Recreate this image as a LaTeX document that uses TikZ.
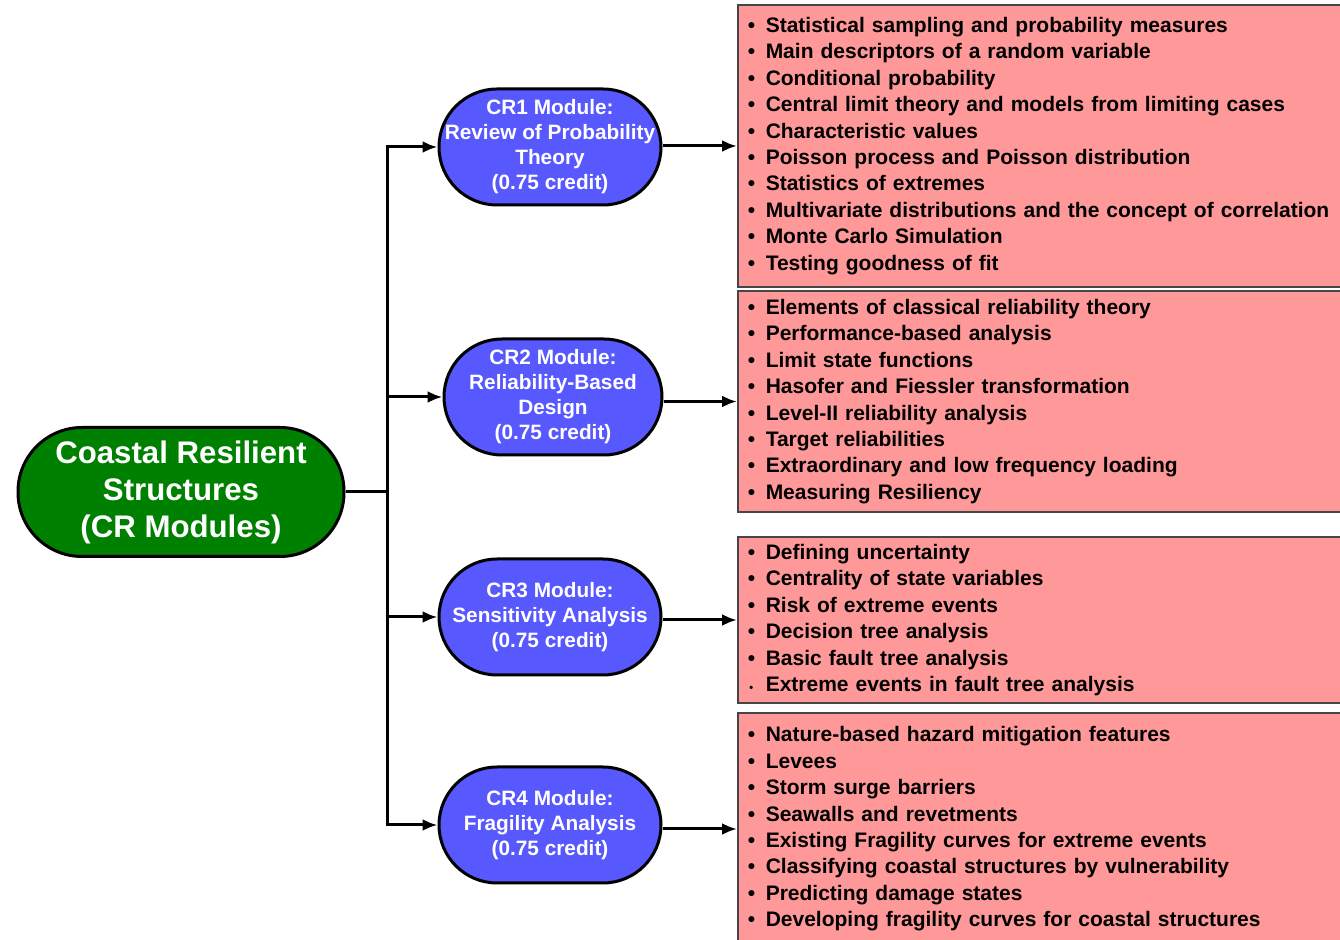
\documentclass[tikz,border=0pt]{standalone}
\usepackage{fontspec}
\setmainfont{Liberation Sans}
\usetikzlibrary{arrows.meta}
\definecolor{rootgreen}{RGB}{0,128,0}
\definecolor{modblue}{RGB}{88,88,255}
\definecolor{listpink}{RGB}{255,153,153}
\definecolor{listedge}{RGB}{70,70,70}
\newcommand{\itm}[1]{\makebox[9pt][l]{\textbullet}#1}
\newcommand{\itmsmall}[1]{\makebox[9pt][l]{\hspace{0.8pt}\fontsize{5.5}{5.5}\selectfont\textbullet}#1}

\begin{document}
\begin{tikzpicture}[x=0.5pt, y=-0.5pt,
  root/.style={rectangle, rounded corners=32pt, draw=black, line width=1.5pt, fill=rootgreen, text=white,
    font=\fontsize{15.6}{18.5}\selectfont\bfseries, align=center,
    minimum width=163pt, minimum height=64.5pt, inner sep=0pt},
  module/.style={rectangle, rounded corners=29pt, draw=black, line width=1.5pt, fill=modblue, text=white,
    font=\fontsize{10.4}{12.5}\selectfont\bfseries, align=center,
    minimum width=111pt, minimum height=58pt, inner sep=0pt},
  topics/.style={rectangle, draw=listedge, line width=0.75pt, fill=listpink, anchor=west,
    font=\fontsize{10.5}{13.2}\selectfont\bfseries, align=left,
    text width=330pt, inner xsep=5pt},
  link/.style={line width=1.5pt},
  feed/.style={line width=1.5pt, -{Latex[length=7.5pt, width=6pt]}}]
\useasboundingbox (0,0) rectangle (1340,940);
\clip (0,0) rectangle (1340,940);
\node[root] (root) at (181,492) {Coastal Resilient\\Structures\\(CR Modules)};
\node[module] (m1) at (550,147) {CR1 Module:\\Review of Probability\\Theory\\(0.75 credit)};
\node[module, minimum width=109pt] (m2) at (553,397) {CR2 Module:\\Reliability-Based\\Design\\(0.75 credit)};
\node[module] (m3) at (550,617) {CR3 Module:\\Sensitivity Analysis\\(0.75 credit)};
\node[module] (m4) at (550,825) {CR4 Module:\\Fragility Analysis\\(0.75 credit)};
\node[topics, minimum height=141pt] (b1) at (737,146) {%
\itm{Statistical sampling and probability measures}\\
\itm{Main descriptors of a random variable}\\
\itm{Conditional probability}\\
\itm{Central limit theory and models from limiting cases}\\
\itm{Characteristic values}\\
\itm{Poisson process and Poisson distribution}\\
\itm{Statistics of extremes}\\
\itm{Multivariate distributions and the concept of correlation}\\
\itm{Monte Carlo Simulation}\\
\itm{Testing goodness of fit}};
\node[topics, minimum height=110.5pt] (b2) at (737,401.5) {%
\itm{Elements of classical reliability theory}\\
\itm{Performance-based analysis}\\
\itm{Limit state functions}\\
\itm{Hasofer and Fiessler transformation}\\
\itm{Level-II reliability analysis}\\
\itm{Target reliabilities}\\
\itm{Extraordinary and low frequency loading}\\
\itm{Measuring Resiliency}};
\node[topics, minimum height=83pt] (b3) at (737,620) {%
\itm{Defining uncertainty}\\
\itm{Centrality of state variables}\\
\itm{Risk of extreme events}\\
\itm{Decision tree analysis}\\
\itm{Basic fault tree analysis}\\
\itmsmall{Extreme events in fault tree analysis}};
\node[topics, minimum height=116pt] (b4) at (737,829) {%
\itm{Nature-based hazard mitigation features}\\
\itm{Levees}\\
\itm{Storm surge barriers}\\
\itm{Seawalls and revetments}\\
\itm{Existing Fragility curves for extreme events}\\
\itm{Classifying coastal structures by vulnerability}\\
\itm{Predicting damage states}\\
\itm{Developing fragility curves for coastal structures}};
\coordinate (trunk) at (387,492);
\draw[link] (root.east) -- (trunk);
\draw[feed] (trunk) |- (m1.west);
\draw[feed] (trunk) |- (m2.west);
\draw[feed] (trunk) |- (m3.west);
\draw[feed] (trunk) |- (m4.west);
\draw[feed] (b1.west -| m1.east) -- (b1.west);
\draw[feed] (b2.west -| m2.east) -- (b2.west);
\draw[feed] (b3.west -| m3.east) -- (b3.west);
\draw[feed] (b4.west -| m4.east) -- (b4.west);
\end{tikzpicture}
\end{document}
